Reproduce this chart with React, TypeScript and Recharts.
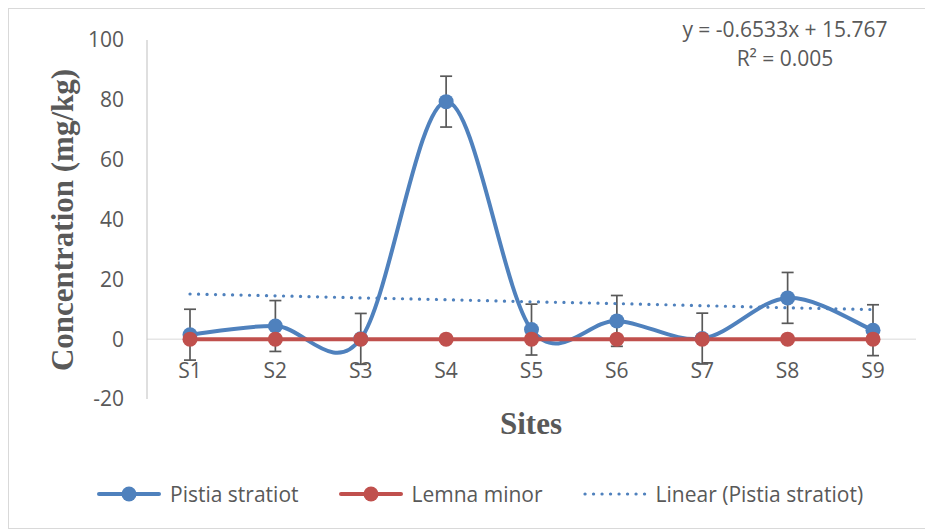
import React from "react";
import { LineChart, Line, XAxis, YAxis, ErrorBar, ReferenceLine, Legend, Customized } from "recharts";

const sites = ["S1", "S2", "S3", "S4", "S5", "S6", "S7", "S8", "S9"];
const pistia = [1.5, 4.4, 0.1, 79.4, 3.2, 6.1, 0.2, 13.8, 3.0];
const pistiaErr = [8.5, 8.5, 8.5, 8.5, 8.5, 8.5, 8.5, 8.5, 8.5];
const lemna = [0, 0, 0, 0, 0, 0, 0, 0, 0];
const trend = [15.1, 14.5, 13.8, 13.2, 12.5, 11.9, 11.2, 10.5, 9.9];
const yTicks = [-20, 0, 20, 40, 60, 80, 100];

const data = sites.map((site, i) => ({
  site,
  pistia: pistia[i],
  err: pistiaErr[i],
  lemna: lemna[i],
  trend: trend[i],
}));

const BLUE = "#4f81bd";
const RED = "#c0504d";
const TEXT = "#595959";
const FONT = "'Open Sans', sans-serif";
const SERIF = "'Liberation Serif', serif";

// excel-style smoothed line (catmull-rom through the points)
function excelSmooth(context: any) {
  let xs: number[] = [];
  let ys: number[] = [];
  return {
    areaStart() {},
    areaEnd() {},
    lineStart() {
      xs = [];
      ys = [];
    },
    point(x: number, y: number) {
      xs.push(+x);
      ys.push(+y);
    },
    lineEnd() {
      const n = xs.length;
      if (!n) return;
      context.moveTo(xs[0], ys[0]);
      for (let i = 0; i < n - 1; i++) {
        const p = Math.max(i - 1, 0);
        const q = Math.min(i + 2, n - 1);
        context.bezierCurveTo(
          xs[i] + (xs[i + 1] - xs[p]) / 6,
          ys[i] + (ys[i + 1] - ys[p]) / 6,
          xs[i + 1] - (xs[q] - xs[i]) / 6,
          ys[i + 1] - (ys[q] - ys[i]) / 6,
          xs[i + 1],
          ys[i + 1]
        );
      }
    },
  };
}

const marker = (color: string) => (p: any) =>
  p.cx == null ? <g key={p.index} /> : <circle key={p.index} cx={p.cx} cy={p.cy} r={7.5} fill={color} />;

const legendOrder = ["pistia", "lemna", "trend"];
const legendStyle: Record<string, { dash?: string; dot: boolean }> = {
  pistia: { dot: true },
  lemna: { dot: true },
  trend: { dash: "0.1 8.4", dot: false },
};

function LegendContent({ payload }: any) {
  const items = [...(payload || [])].sort(
    (a: any, b: any) => legendOrder.indexOf(a.dataKey) - legendOrder.indexOf(b.dataKey)
  );
  return (
    <div style={{ display: "flex", alignItems: "center", fontFamily: FONT, fontSize: 21, color: TEXT }}>
      {items.map((e: any) => {
        const s = legendStyle[e.dataKey] || { dot: false };
        return (
          <div key={e.dataKey} style={{ display: "flex", alignItems: "center", marginRight: 40 }}>
            <svg width={64} height={20}>
              <line x1={2} y1={10} x2={62} y2={10} stroke={e.color} strokeWidth={s.dash ? 3.2 : 4}
                strokeDasharray={s.dash} strokeLinecap="round" />
              {s.dot && <circle cx={32} cy={10} r={7.5} fill={e.color} />}
            </svg>
            <span style={{ marginLeft: 9 }}>{e.value}</span>
          </div>
        );
      })}
    </div>
  );
}

function Titles() {
  return (
    <g fill={TEXT}>
      <text x={776} y={28} textAnchor="middle" fontFamily={FONT} fontSize={21}>y = -0.6533x + 15.767</text>
      <text x={776} y={57} textAnchor="middle" fontFamily={FONT} fontSize={21}>R² = 0.005</text>
      <text x={522} y={425} textAnchor="middle" fontFamily={SERIF} fontSize={31} fontWeight="bold">Sites</text>
      <text transform="translate(64,211) rotate(-90)" textAnchor="middle" fontFamily={SERIF} fontSize={31} fontWeight="bold">
        Concentration (mg/kg)
      </text>
    </g>
  );
}

const SiteTick = (p: any) => (
  <text x={p.x} y={p.y - 29} textAnchor="middle" fill={TEXT} fontFamily={FONT} fontSize={21}>
    {p.payload.value}
  </text>
);

export default function App() {
  return (
    <div style={{ width: 921, height: 519, border: "1px solid #d9d9d9", background: "#fff" }}>
      <LineChart width={921} height={519} data={data} margin={{ top: 31, right: 14, bottom: 99, left: 1 }}>
        <XAxis dataKey="site" height={30} axisLine={false} tickLine={false} padding={{ left: 43, right: 43 }}
          interval={0} tick={<SiteTick />} />
        <YAxis domain={[-20, 100]} ticks={yTicks} width={137} axisLine={{ stroke: "#bfbfbf" }} tickLine={false}
          tickMargin={17} tick={{ fill: TEXT, fontSize: 21, fontFamily: FONT }} />
        <ReferenceLine y={0} stroke="#d9d9d9" strokeWidth={1} />
        <Line dataKey="pistia" name="Pistia stratiot" type={excelSmooth as any} stroke={BLUE} strokeWidth={4}
          dot={marker(BLUE)} activeDot={false} isAnimationActive={false}>
          <ErrorBar dataKey="err" direction="y" stroke={TEXT} strokeWidth={1.7} width={6} isAnimationActive={false} />
        </Line>
        <Line dataKey="lemna" name="Lemna minor" type="linear" stroke={RED} strokeWidth={4}
          dot={marker(RED)} activeDot={false} isAnimationActive={false} />
        <Line dataKey="trend" name="Linear (Pistia stratiot)" type="linear" stroke={BLUE} strokeWidth={3.2}
          strokeDasharray="0.1 8.4" strokeLinecap="round" dot={false} activeDot={false} isAnimationActive={false} />
        <Legend verticalAlign="middle" align="center" layout="horizontal" content={<LegendContent />}
          wrapperStyle={{ left: 88, top: 471, width: 820 }} />
        <Customized component={Titles} />
      </LineChart>
    </div>
  );
}
